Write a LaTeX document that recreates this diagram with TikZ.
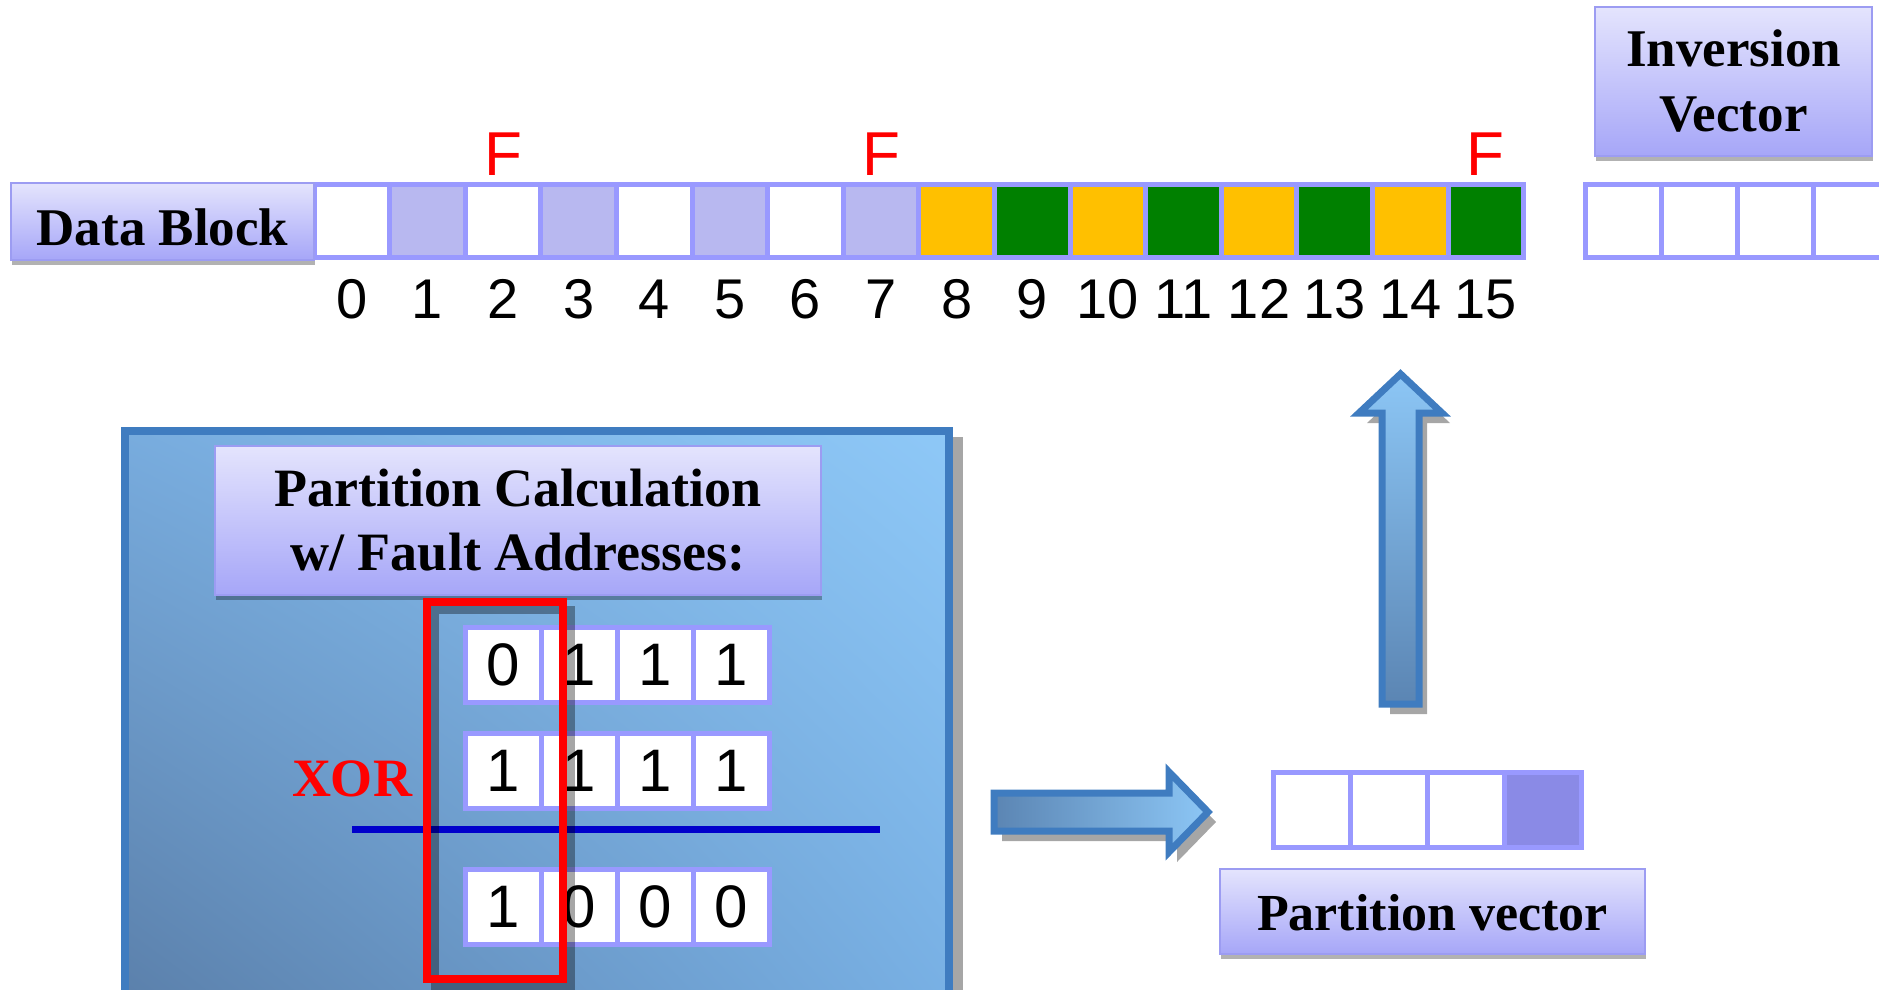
\documentclass[tikz,border=0pt]{standalone}
\usepackage{fontspec}
\setmainfont{Liberation Serif}
\newfontfamily\arialf{Liberation Sans}
\usetikzlibrary{shadows,shadings}

\definecolor{cellborder}{HTML}{9999FF}
\definecolor{lav}{HTML}{B8B8F0}
\definecolor{amber}{HTML}{FFC000}
\definecolor{dgreen}{HTML}{008000}
\definecolor{pvfill}{HTML}{8A8AE6}
\definecolor{boxtop}{HTML}{E4E4FD}
\definecolor{boxbot}{HTML}{A6A6F8}
\definecolor{boxline}{HTML}{9C9CF2}
\definecolor{bigline}{HTML}{3F7CC0}
\definecolor{arrlight}{HTML}{8CC6F5}
\definecolor{arrdark}{HTML}{5B85B3}
\definecolor{shadowgray}{HTML}{A6A6A6}
\definecolor{xorline}{HTML}{0000CC}
\definecolor{bgul}{HTML}{78ACDE}
\definecolor{bgur}{HTML}{8EC8F7}
\definecolor{bgll}{HTML}{5B80AB}
\definecolor{bglr}{HTML}{78B0E4}

\tikzset{
  labelbox/.style={draw=boxline, line width=2pt, top color=boxtop, bottom color=boxbot,
    inner sep=0pt, align=center, font=\bfseries\fontsize{53}{65}\selectfont,
    drop shadow={shadow xshift=1pt, shadow yshift=-5pt, opacity=0.3, fill=black}},
  cell/.style={draw=cellborder, line width=5pt, fill=white, minimum width=76pt,
    minimum height=73pt, inner sep=0pt},
  bit/.style={cell, minimum height=75pt, font=\arialf\fontsize{60}{64}\selectfont},
  numlabel/.style={font=\arialf\fontsize{56}{60}\selectfont, anchor=base, inner sep=0pt},
  flabel/.style={font=\arialf\fontsize{62}{66}\selectfont, text=red, anchor=base, inner sep=0pt},
  blockarrow/.style={draw=bigline, line width=7pt, line join=miter},
}

\begin{document}
\begin{tikzpicture}[x=1pt,y=-1pt]
\useasboundingbox (0,0) rectangle (1879,989);

% ---------- data block ----------
\foreach \i/\c in {0/white,1/lav,2/white,3/lav,4/white,5/lav,6/white,7/lav,
                   8/amber,9/dgreen,10/amber,11/dgreen,12/amber,13/dgreen,14/amber,15/dgreen}{
  \node[cell, fill=\c, minimum width=75.6pt] (d\i) at ({314+75.6*(\i+0.5)},221) {};
  \node[numlabel] (n\i) at ({314+75.6*(\i+0.5)},318) {\i};
}
\node[labelbox, minimum width=303pt, minimum height=77pt, text height=47pt, text depth=0pt]
  (dbox) at (162.5,221.5) {Data Block};
\node[flabel] (f2) at ({314+75.6*2.5},175) {F};
\node[flabel] (f7) at ({314+75.6*7.5},175) {F};
\node[flabel] (f15) at ({314+75.6*15.5},175) {F};

% ---------- inversion vector ----------
\node[labelbox, minimum width=277pt, minimum height=149pt] (ivbox) at (1733.5,81.5) {Inversion\\Vector};
\foreach \i in {0,1,2,3}{
  \node[cell] (iv\i) at ({1623.5+76*\i},221) {};
}

% ---------- big blue box ----------
\fill[shadowgray] (131,437) rectangle (963,1000);
\path[draw=bigline, line width=8pt, upper left=bgul, upper right=bgur, lower left=bgll, lower right=bglr]
  (125,431) rectangle (949,1000);

\node[labelbox, minimum width=606pt, minimum height=149pt, font=\bfseries\fontsize{54}{64}\selectfont]
  (pcbox) at (518,520.5) {Partition Calculation\\w/ Fault Addresses:};

\foreach \i/\v in {0/0,1/1,2/1,3/1}{
  \node[bit] (a\i) at ({503.5+76*\i},665) {\v};
}
\foreach \i/\v in {0/1,1/1,2/1,3/1}{
  \node[bit] (b\i) at ({503.5+76*\i},771) {\v};
}
\foreach \i/\v in {0/1,1/0,2/0,3/0}{
  \node[bit] (c\i) at ({503.5+76*\i},907) {\v};
}

\node[font=\bfseries\fontsize{54}{60}\selectfont, text=red, anchor=base, inner sep=0pt]
  (xor) at (352,796) {XOR};
\coordinate (lineS) at (352,829.5);
\coordinate (lineE) at (880,829.5);
\draw[xorline, line width=7pt] (lineS) -- (lineE);

% red selection frame with its shadow
\draw[black, opacity=0.35, line width=8pt] (435,610) rectangle (571,987);
\draw[red, line width=8pt] (427,602) rectangle (563,979);

% ---------- right arrow ----------
\begin{scope}[shift={(8,10)}]
  \fill[shadowgray] (994,793) -- (1169,793) -- (1169,772) -- (1208,812) -- (1169,852) -- (1169,831) -- (994,831) -- cycle;
\end{scope}
\path[blockarrow, left color=arrdark, right color=arrlight]
  (994,793) -- (1169,793) -- (1169,772) -- (1208,812) -- (1169,852) -- (1169,831) -- (994,831) -- cycle;

% ---------- partition vector ----------
\foreach \i/\c in {0/white,1/white,2/white,3/pvfill}{
  \node[cell, fill=\c, minimum width=77pt, minimum height=75pt] (p\i) at ({1312+77*\i},810) {};
}
\node[labelbox, minimum width=425pt, minimum height=85pt, text height=37pt, text depth=0pt,
  font=\bfseries\fontsize{52}{60}\selectfont] (pvbox) at (1432.5,911.5) {Partition vector};

% ---------- up arrow ----------
\begin{scope}[shift={(8,10)}]
  \fill[shadowgray] (1382,704) -- (1382,413) -- (1359,413) -- (1400.5,374) -- (1442,413) -- (1419,413) -- (1419,704) -- cycle;
\end{scope}
\path[blockarrow, top color=arrlight, bottom color=arrdark]
  (1382,704) -- (1382,413) -- (1359,413) -- (1400.5,374) -- (1442,413) -- (1419,413) -- (1419,704) -- cycle;

\end{tikzpicture}
\end{document}
